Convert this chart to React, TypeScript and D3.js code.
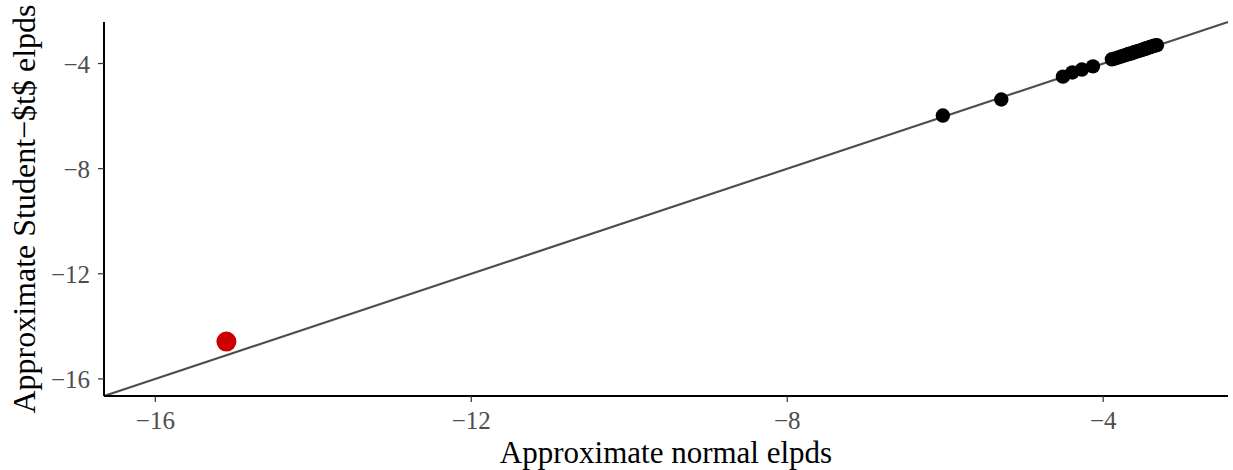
import * as d3 from "d3";

// approximate normal elpds (x) vs approximate Student-t elpds (y)
const normalElpd = [
  -6.03, -5.29, -4.51, -4.39, -4.27, -4.13,
  -3.89, -3.85, -3.81, -3.77, -3.74, -3.71, -3.68, -3.65, -3.62, -3.6,
  -3.57, -3.55, -3.52, -3.5, -3.48, -3.46, -3.44, -3.42, -3.4, -3.38,
  -3.36, -3.34, -3.32,
];
const studentElpd = [
  -5.98, -5.37, -4.5, -4.34, -4.23, -4.11,
  -3.84, -3.81, -3.77, -3.73, -3.7, -3.67, -3.64, -3.62, -3.59, -3.56,
  -3.54, -3.52, -3.49, -3.47, -3.45, -3.43, -3.41, -3.39, -3.37, -3.35,
  -3.33, -3.31, -3.3,
];
// the outlier, drawn in red
const outlierNormal = -15.1;
const outlierStudent = -14.58;

const tickValues = [-16, -12, -8, -4];
const domain: [number, number] = [-16.65, -2.42];

const W = 1233;
const H = 470;
const MARGIN = { top: 22, right: 5, bottom: 74, left: 104 };
const FONT = "'Liberation Serif', 'Times New Roman', serif";

export default function App() {
  const xScale = d3.scaleLinear().domain(domain).range([MARGIN.left, W - MARGIN.right]);
  const yScale = d3.scaleLinear().domain(domain).range([H - MARGIN.bottom, MARGIN.top]);
  const fmt = (v: number) => (v < 0 ? "\u2212" + Math.abs(v) : String(v));
  const x0 = xScale(domain[0]);
  const y0 = yScale(domain[0]);

  return (
    <svg
      width={W}
      height={H}
      style={{ position: "absolute", left: 0, top: 0, background: "white" }}
    >
      {/* identity line */}
      <line
        x1={xScale(domain[0])}
        y1={yScale(domain[0])}
        x2={xScale(domain[1])}
        y2={yScale(domain[1])}
        stroke="#4d4d4d"
        strokeWidth={2.2}
      />
      {normalElpd.map((d, i) => (
        <circle key={i} cx={xScale(d)} cy={yScale(studentElpd[i])} r={7.2} fill="black" />
      ))}
      <circle cx={xScale(outlierNormal)} cy={yScale(outlierStudent)} r={10} fill="#cc0000" />

      {/* axes */}
      <line x1={x0} x2={x0} y1={MARGIN.top} y2={y0} stroke="black" strokeWidth={2} />
      <line x1={x0} x2={W - MARGIN.right} y1={y0} y2={y0} stroke="black" strokeWidth={2} />
      {tickValues.map((t) => (
        <g key={"x" + t}>
          <line x1={xScale(t)} x2={xScale(t)} y1={y0} y2={y0 + 6} stroke="#333" strokeWidth={1.2} />
          <text
            x={xScale(t)}
            y={y0 + 33}
            textAnchor="middle"
            fontSize={25}
            fontFamily={FONT}
            fill="#4d4d4d"
          >
            {fmt(t)}
          </text>
        </g>
      ))}
      {tickValues.map((t) => (
        <g key={"y" + t}>
          <line x1={x0 - 6} x2={x0} y1={yScale(t)} y2={yScale(t)} stroke="#333" strokeWidth={1.2} />
          <text
            x={x0 - 14}
            y={yScale(t) + 9}
            textAnchor="end"
            fontSize={25}
            fontFamily={FONT}
            fill="#4d4d4d"
          >
            {fmt(t)}
          </text>
        </g>
      ))}
      <text
        x={(x0 + W - MARGIN.right) / 2}
        y={H - 7}
        textAnchor="middle"
        fontSize={31}
        fontFamily={FONT}
        fill="black"
      >
        Approximate normal elpds
      </text>
      <text
        transform={`translate(35,${(MARGIN.top + y0) / 2}) rotate(-90)`}
        textAnchor="middle"
        fontSize={32}
        fontFamily={FONT}
        fill="black"
      >
        Approximate Student{"\u2212"}$t$ elpds
      </text>
    </svg>
  );
}
